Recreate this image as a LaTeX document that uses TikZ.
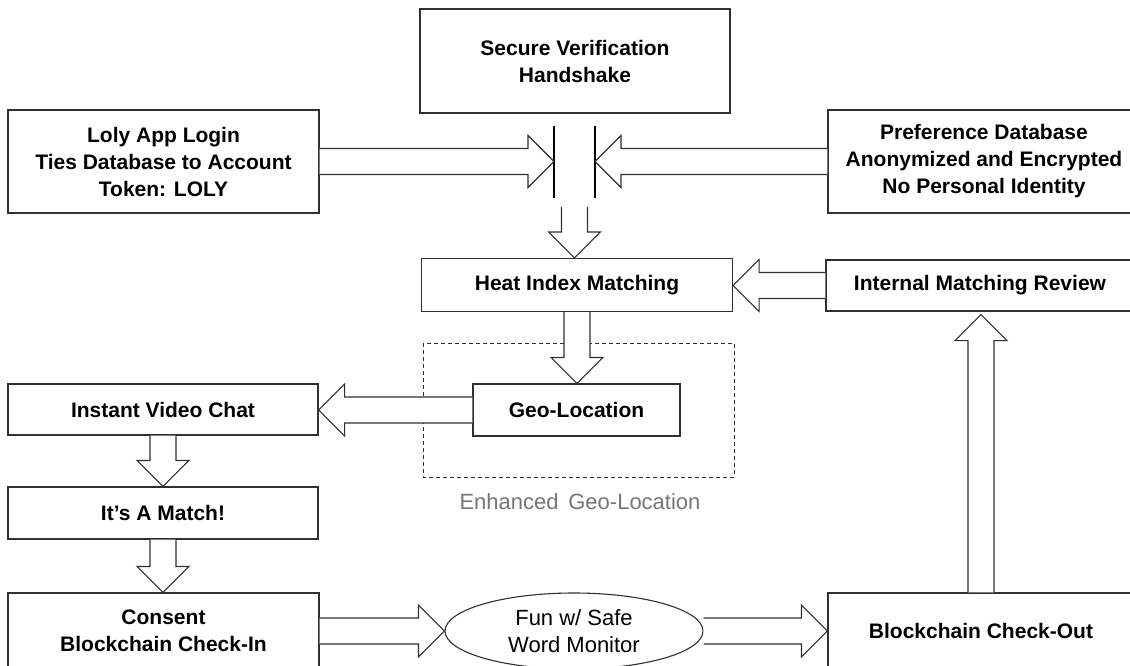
\documentclass[tikz,border=0pt]{standalone}
\usepackage{fontspec}
\setmainfont{Liberation Sans}
\usetikzlibrary{shapes.geometric,calc}
\definecolor{lineC}{HTML}{303030}
\definecolor{labelC}{HTML}{767676}
\tikzset{
  box/.style={draw=lineC, line width=1.1pt, fill=white, rectangle, align=center, inner sep=0pt,
     font=\bfseries\fontsize{21}{27}\selectfont},
  ovalbox/.style={draw=lineC, line width=1.1pt, fill=white, ellipse, align=center, inner sep=0pt,
     font=\fontsize{22}{27}\selectfont},
  barrow/.style={draw=lineC, line width=1.1pt, fill=white, line join=miter},
  zone/.style={draw=lineC, line width=0.9pt, dash pattern=on 4pt off 3pt},
  barline/.style={draw=black, line width=1.2pt}
}
\newcommand{\arrowR}[2]{\draw[barrow] let \p1=(#1),\p2=(#2) in
  (\x1,\y1+13pt) -- (\x2-26pt,\y1+13pt) -- (\x2-26pt,\y1+26pt) -- (\x2,\y1)
  -- (\x2-26pt,\y1-26pt) -- (\x2-26pt,\y1-13pt) -- (\x1,\y1-13pt);}
\newcommand{\arrowL}[2]{\draw[barrow] let \p1=(#1),\p2=(#2) in
  (\x1,\y1+13pt) -- (\x2+26pt,\y1+13pt) -- (\x2+26pt,\y1+26pt) -- (\x2,\y1)
  -- (\x2+26pt,\y1-26pt) -- (\x2+26pt,\y1-13pt) -- (\x1,\y1-13pt);}
\newcommand{\arrowD}[2]{\draw[barrow] let \p1=(#1),\p2=(#2) in
  (\x1-13pt,\y1) -- (\x1-13pt,\y2+26pt) -- (\x1-26pt,\y2+26pt) -- (\x1,\y2)
  -- (\x1+26pt,\y2+26pt) -- (\x1+13pt,\y2+26pt) -- (\x1+13pt,\y1);}
\newcommand{\arrowU}[2]{\draw[barrow] let \p1=(#1),\p2=(#2) in
  (\x1-13pt,\y1) -- (\x1-13pt,\y2-26pt) -- (\x1-26pt,\y2-26pt) -- (\x1,\y2)
  -- (\x1+26pt,\y2-26pt) -- (\x1+13pt,\y2-26pt) -- (\x1+13pt,\y1);}
\begin{document}
\begin{tikzpicture}[x=1pt,y=-1pt]
\useasboundingbox (0,0) rectangle (1130,665);
\clip (0,0) rectangle (1130,665);
\fill[white] (0,0) rectangle (1130,665);

% dashed zone
\draw[zone] (423,343) rectangle (734,477);
\node[text=labelC, font=\fontsize{22}{26}\selectfont, inner sep=0pt] (zonelabel) at (580,502) {Enhanced\, Geo-Location};

% boxes
\node[box, minimum width=310, minimum height=104] (hs) at (575,61) {Secure Verification\\Handshake};
\node[box, minimum width=311, minimum height=103] (login) at (163.5,161.5) {Loly App Login\\Ties Database to Account\\Token: LOLY};
\node[box, minimum width=312, minimum height=103] (pref) at (984,161.5) {Preference Database\\Anonymized and Encrypted\\No Personal Identity};
\node[box, minimum width=311, minimum height=53] (heat) at (577,285) {Heat Index Matching};
\node[box, minimum width=308, minimum height=51] (internal) at (980,285.5) {Internal Matching Review};
\node[box, minimum width=207, minimum height=52] (geo) at (576.5,410) {Geo-Location};
\node[box, minimum width=310, minimum height=51] (video) at (163,409.5) {Instant Video Chat};
\node[box, minimum width=310, minimum height=52] (match) at (163,513) {It’s A Match!};
\node[box, minimum width=311, minimum height=76] (consent) at (163.5,631) {Consent\\Blockchain Check-In};
\node[ovalbox, minimum width=258, minimum height=76] (fun) at (574,631) {Fun w/ Safe\\Word Monitor};
\node[box, minimum width=306, minimum height=76] (checkout) at (981,631) {Blockchain Check-Out};

% handshake bars
\coordinate (barLtop) at (554,126);
\coordinate (barLbot) at (554,198);
\coordinate (barRtop) at (595,126);
\coordinate (barRbot) at (595,198);
\coordinate (barL) at (554,162);
\coordinate (barR) at (595,162);
\coordinate (hsout) at (574.5,207);
\draw[barline] (barLtop) -- (barLbot);
\draw[barline] (barRtop) -- (barRbot);

% block arrows
\arrowR{login.east}{barL}
\arrowL{pref.west}{barR}
\arrowD{hsout}{heat.north}
\arrowL{internal.west}{heat.east}
\arrowU{checkout.north}{$(internal.south)+(0,3)$}
\arrowD{heat.south}{geo.north}
\arrowL{geo.west}{video.east}
\arrowD{video.south}{match.north}
\arrowD{match.south}{consent.north}
\arrowR{consent.east}{fun.west}
\arrowR{fun.east}{checkout.west}
\end{tikzpicture}
\end{document}
